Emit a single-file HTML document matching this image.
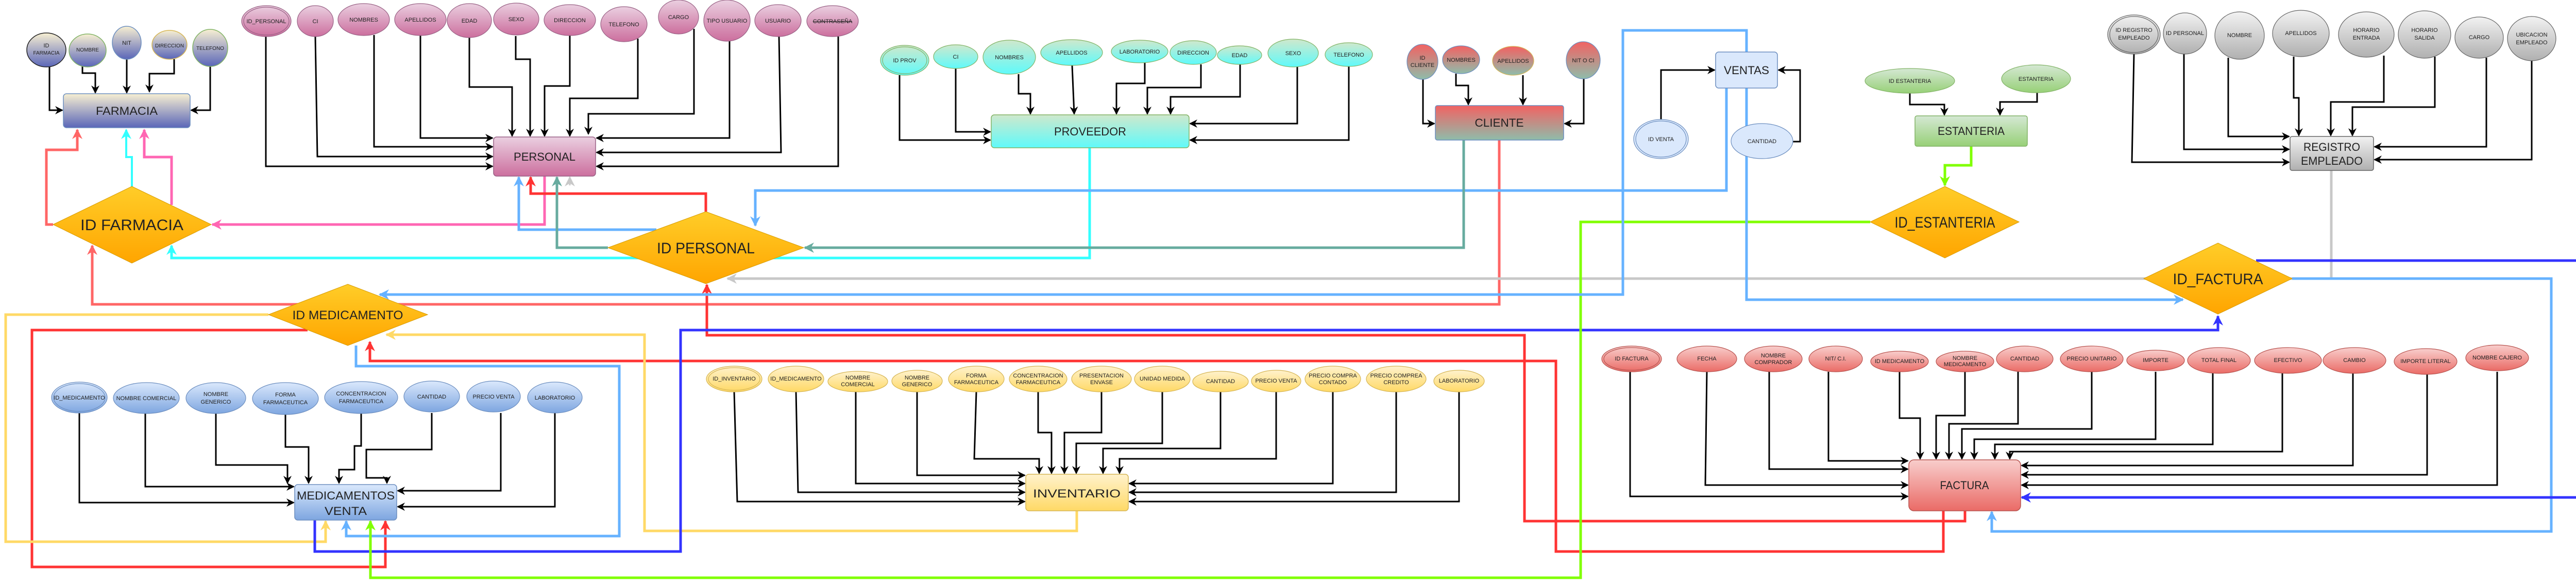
<!DOCTYPE html>
<html><head><meta charset="utf-8"><style>
html,body{margin:0;padding:0;background:#fff;width:5181px;height:1138px;overflow:hidden}
svg{display:block;position:absolute;left:0;top:0}
text{font-family:"Liberation Sans",sans-serif;fill:#222}
.a{font-size:11px}
.e{font-size:22px}
.d{font-size:30px}
</style></head><body>
<svg width="5181" height="1138" viewBox="0 0 5181 1138" xmlns="http://www.w3.org/2000/svg">
<defs>
<linearGradient id="gF" x1="0" y1="0" x2="0" y2="1"><stop offset="0" stop-color="#f7efd2"/><stop offset="1" stop-color="#5a66b8"/></linearGradient>
<linearGradient id="gP" x1="0" y1="0" x2="0" y2="1"><stop offset="0" stop-color="#eacfe0"/><stop offset="1" stop-color="#cc6f9e"/></linearGradient>
<linearGradient id="gC" x1="0" y1="0" x2="0" y2="1"><stop offset="0" stop-color="#cfe8cc"/><stop offset="1" stop-color="#5ffafa"/></linearGradient>
<linearGradient id="gR" x1="0" y1="0" x2="0" y2="1"><stop offset="0" stop-color="#f26262"/><stop offset="1" stop-color="#8fbcaa"/></linearGradient>
<linearGradient id="gE" x1="0" y1="0" x2="0" y2="1"><stop offset="0" stop-color="#d5e8d4"/><stop offset="1" stop-color="#97d077"/></linearGradient>
<linearGradient id="gG" x1="0" y1="0" x2="0" y2="1"><stop offset="0" stop-color="#f2f2f2"/><stop offset="1" stop-color="#b0b0b0"/></linearGradient>
<linearGradient id="gB" x1="0" y1="0" x2="0" y2="1"><stop offset="0" stop-color="#dae8fc"/><stop offset="1" stop-color="#7ea6e0"/></linearGradient>
<linearGradient id="gY" x1="0" y1="0" x2="0" y2="1"><stop offset="0" stop-color="#fff2cc"/><stop offset="1" stop-color="#ffd966"/></linearGradient>
<linearGradient id="gA" x1="0" y1="0" x2="0" y2="1"><stop offset="0" stop-color="#f8cecc"/><stop offset="1" stop-color="#ea6b66"/></linearGradient>
<linearGradient id="gD" x1="0" y1="0" x2="0" y2="1"><stop offset="0" stop-color="#ffcd28"/><stop offset="1" stop-color="#ffa500"/></linearGradient>
<marker id="mk" markerUnits="userSpaceOnUse" markerWidth="16" markerHeight="16" refX="14" refY="8" orient="auto-start-reverse"><path d="M0,0 L16,8 L0,16 L5,8 z" fill="#000"/></marker>
<marker id="m1" markerUnits="userSpaceOnUse" markerWidth="20" markerHeight="20" refX="18" refY="10" orient="auto-start-reverse"><path d="M0,0 L20,10 L0,20 L6,10 z" fill="#ff6666"/></marker>
<marker id="m2" markerUnits="userSpaceOnUse" markerWidth="20" markerHeight="20" refX="18" refY="10" orient="auto-start-reverse"><path d="M0,0 L20,10 L0,20 L6,10 z" fill="#33ffff"/></marker>
<marker id="m3" markerUnits="userSpaceOnUse" markerWidth="20" markerHeight="20" refX="18" refY="10" orient="auto-start-reverse"><path d="M0,0 L20,10 L0,20 L6,10 z" fill="#ff66b3"/></marker>
<marker id="m4" markerUnits="userSpaceOnUse" markerWidth="20" markerHeight="20" refX="18" refY="10" orient="auto-start-reverse"><path d="M0,0 L20,10 L0,20 L6,10 z" fill="#ff3333"/></marker>
<marker id="m5" markerUnits="userSpaceOnUse" markerWidth="20" markerHeight="20" refX="18" refY="10" orient="auto-start-reverse"><path d="M0,0 L20,10 L0,20 L6,10 z" fill="#66b2ff"/></marker>
<marker id="m6" markerUnits="userSpaceOnUse" markerWidth="20" markerHeight="20" refX="18" refY="10" orient="auto-start-reverse"><path d="M0,0 L20,10 L0,20 L6,10 z" fill="#67ab9f"/></marker>
<marker id="m7" markerUnits="userSpaceOnUse" markerWidth="20" markerHeight="20" refX="18" refY="10" orient="auto-start-reverse"><path d="M0,0 L20,10 L0,20 L6,10 z" fill="#c8c8c8"/></marker>
<marker id="m8" markerUnits="userSpaceOnUse" markerWidth="20" markerHeight="20" refX="18" refY="10" orient="auto-start-reverse"><path d="M0,0 L20,10 L0,20 L6,10 z" fill="#ffd966"/></marker>
<marker id="m9" markerUnits="userSpaceOnUse" markerWidth="20" markerHeight="20" refX="18" refY="10" orient="auto-start-reverse"><path d="M0,0 L20,10 L0,20 L6,10 z" fill="#3333ff"/></marker>
<marker id="m10" markerUnits="userSpaceOnUse" markerWidth="20" markerHeight="20" refX="18" refY="10" orient="auto-start-reverse"><path d="M0,0 L20,10 L0,20 L6,10 z" fill="#80ff00"/></marker>
</defs>

<g fill="none" stroke-width="5" stroke-linejoin="miter">
<polyline points="103,436 90,436 90,291 150,291 150,252" stroke="#ff6666" marker-end="url(#m1)"/>
<polyline points="256,362 256,305 245,305 245,252" stroke="#33ffff" stroke-width="4" marker-end="url(#m2)"/>
<polyline points="333,398 333,305 280,305 280,252" stroke="#ff66b3" marker-end="url(#m3)"/>
<polyline points="1057,342 1057,436 412,436" stroke="#ff66b3" marker-end="url(#m3)"/>
<polyline points="2115,287 2115,501 333,501 333,477" stroke="#33ffff" marker-end="url(#m2)"/>
<polyline points="2910,272 2910,591 179,591 179,477" stroke="#ff6666" marker-end="url(#m1)"/>
<polyline points="1370,411 1370,376 1030,376 1030,344" stroke="#ff3333" marker-end="url(#m4)"/>
<polyline points="1274,446 1007,446 1007,344" stroke="#66b2ff" marker-end="url(#m5)"/>
<polyline points="3351,171 3351,370 1466,370 1466,438" stroke="#66b2ff" marker-end="url(#m5)"/>
<polyline points="2841,272 2841,481 1562,481" stroke="#67ab9f" marker-end="url(#m6)"/>
<polyline points="1180,481 1081,481 1081,344" stroke="#67ab9f" marker-end="url(#m6)"/>
<polyline points="4525,331 4525,541 1412,541" stroke="#c8c8c8" marker-end="url(#m7)"/>
<polyline points="1106,360 1106,344" stroke="#c8c8c8" stroke-width="3" marker-end="url(#m7)"/>
<polyline points="4449,541 4952,541 4952,1032 3866,1032 3866,994" stroke="#66b2ff" marker-end="url(#m5)"/>
<polyline points="3814,992 3814,1012 2959,1012 2959,651 1372,651 1372,553" stroke="#ff3333" marker-end="url(#m4)"/>
<polyline points="3772,992 3772,1071 3020,1071 3020,701 718,701 718,664" stroke="#ff3333" marker-end="url(#m4)"/>
<polyline points="597,641 62,641 62,1101 748,1101 748,1012" stroke="#ff3333" marker-end="url(#m4)"/>
<polyline points="521,611 11,611 11,1052 632,1052 632,1012" stroke="#ffd966" marker-end="url(#m8)"/>
<polyline points="2090,992 2090,1031 1251,1031 1251,650 750,650" stroke="#ffd966" marker-end="url(#m8)"/>
<polyline points="691,671 691,711 1202,711 1202,1041 672,1041 672,1012" stroke="#66b2ff" marker-end="url(#m5)"/>
<polyline points="611,1010 611,1071 1321,1071 1321,641 4305,641 4305,614" stroke="#3333ff" marker-end="url(#m9)"/>
<polyline points="4379,506 5009,506 5009,966 3924,966" stroke="#3333ff" marker-end="url(#m9)"/>
<polyline points="3826,284 3826,321 3775,321 3775,360" stroke="#80ff00" marker-end="url(#m10)"/>
<polyline points="3630,431 3068,431 3068,1122 719,1122 719,1012" stroke="#80ff00" marker-end="url(#m10)"/>
<polyline points="737,572 3150,572 3150,59 3390,59 3390,582 4237,582" stroke="#66b2ff" marker-start="url(#m5)" marker-end="url(#m5)"/>
</g>

<g fill="none" stroke="#000" stroke-width="3" marker-end="url(#mk)">
<polyline points="96,130 96,214 121,214"/>
<polyline points="160,128 160,142 185,142 185,180"/>
<polyline points="246,115 246,180"/>
<polyline points="338,115 338,143 290,143 290,178"/>
<polyline points="408,128 408,214 371,214"/>

<polyline points="516,71 516,323 956,323"/>
<polyline points="612,71 616,304 956,304"/>
<polyline points="726,68 726,285 956,285"/>
<polyline points="816,68 816,268 956,268"/>
<polyline points="911,73 911,169 994,169 994,264"/>
<polyline points="1001,70 1001,115 1029,115 1029,264"/>
<polyline points="1106,69 1106,167 1057,167 1057,264"/>
<polyline points="1238,75 1238,191 1106,191 1106,264"/>
<polyline points="1347,56 1347,221 1142,221 1142,260"/>
<polyline points="1416,80 1416,268 1158,268"/>
<polyline points="1512,71 1516,296 1158,296"/>
<polyline points="1627,71 1627,323 1158,323"/>

<polyline points="1746,146 1746,272 1922,272"/>
<polyline points="1855,133 1855,256 1922,256"/>
<polyline points="1977,144 1977,182 2000,182 2000,221"/>
<polyline points="2081,127 2085,221"/>
<polyline points="2222,122 2222,162 2167,162 2167,221"/>
<polyline points="2331,125 2331,170 2227,170 2227,221"/>
<polyline points="2407,125 2407,188 2272,188 2272,221"/>
<polyline points="2518,130 2518,240 2310,240"/>
<polyline points="2618,129 2618,272 2310,272"/>

<polyline points="2762,154 2762,240 2784,240"/>
<polyline points="2826,143 2826,166 2850,166 2850,203"/>
<polyline points="2956,146 2956,203"/>
<polyline points="3074,153 3074,240 3037,240"/>

<polyline points="3224,232 3224,136 3328,136"/>
<polyline points="3480,275 3494,275 3494,136 3452,136"/>

<polyline points="3707,180 3707,203 3774,203 3774,223"/>
<polyline points="3954,180 3954,198 3882,198 3882,223"/>

<polyline points="4142,105 4138,315 4443,315"/>
<polyline points="4239,105 4239,290 4443,290"/>
<polyline points="4325,112 4325,265 4443,265"/>
<polyline points="4452,110 4452,190 4462,190 4462,263"/>
<polyline points="4627,108 4627,198 4524,198 4524,263"/>
<polyline points="4726,110 4726,208 4566,208 4566,263"/>
<polyline points="4826,112 4826,285 4609,285"/>
<polyline points="4914,118 4914,310 4609,310"/>

<polyline points="154,802 154,976 570,976"/>
<polyline points="282,802 282,945 570,945"/>
<polyline points="419,802 419,903 558,903 558,938"/>
<polyline points="554,802 554,868 599,868 599,938"/>
<polyline points="701,802 701,866 688,866 688,912 658,912 658,938"/>
<polyline points="838,802 838,873 711,873 711,928 751,928 751,938"/>
<polyline points="972,802 972,953 772,953"/>
<polyline points="1077,802 1077,984 772,984"/>

<polyline points="1425,761 1431,974 1989,974"/>
<polyline points="1545,761 1549,956 1989,956"/>
<polyline points="1661,761 1661,939 1989,939"/>
<polyline points="1780,761 1780,923 1989,923"/>
<polyline points="1895,761 1891,891 2017,891 2017,919"/>
<polyline points="2015,761 2015,840 2041,840 2041,919"/>
<polyline points="2138,761 2138,840 2066,840 2066,919"/>
<polyline points="2256,761 2256,861 2089,861 2089,919"/>
<polyline points="2369,761 2369,871 2141,871 2141,919"/>
<polyline points="2477,761 2477,891 2173,891 2173,919"/>
<polyline points="2587,761 2587,939 2192,939"/>
<polyline points="2710,761 2710,956 2192,956"/>
<polyline points="2832,761 2832,974 2192,974"/>

<polyline points="3164,722 3164,964 3703,964"/>
<polyline points="3313,722 3310,942 3703,942"/>
<polyline points="3434,722 3434,911 3703,911"/>
<polyline points="3549,722 3549,895 3703,895"/>
<polyline points="3687,722 3687,812 3727,812 3727,891"/>
<polyline points="3814,722 3814,807 3758,807 3758,891"/>
<polyline points="3917,722 3917,823 3783,823 3783,891"/>
<polyline points="4060,722 4060,833 3808,833 3808,891"/>
<polyline points="4184,722 4184,853 3832,853 3832,891"/>
<polyline points="4295,722 4295,863 3872,863 3872,891"/>
<polyline points="4430,722 4430,877 3901,877 3901,891"/>
<polyline points="4567,722 4567,904 3924,904"/>
<polyline points="4711,722 4711,922 3924,922"/>
<polyline points="4847,722 4847,942 3924,942"/>
</g>

<g stroke-width="1.5">
<rect x="123" y="182" width="246" height="66" rx="6" fill="url(#gF)" stroke="#6c8ebf"/>
<rect x="958" y="266" width="198" height="76" rx="6" fill="url(#gP)" stroke="#996185"/>
<rect x="1924" y="223" width="384" height="64" rx="6" fill="url(#gC)" stroke="#82b366"/>
<rect x="2786" y="205" width="249" height="67" rx="4" fill="url(#gR)" stroke="#6c8ebf"/>
<rect x="3330" y="101" width="120" height="70" rx="6" fill="#dae8fc" stroke="#6c8ebf"/>
<rect x="3717" y="225" width="218" height="59" rx="4" fill="url(#gE)" stroke="#82b366"/>
<rect x="4445" y="265" width="162" height="66" rx="4" fill="url(#gG)" stroke="#666"/>
<rect x="572" y="941" width="198" height="69" rx="6" fill="url(#gB)" stroke="#6c8ebf"/>
<rect x="1991" y="921" width="199" height="71" rx="6" fill="url(#gY)" stroke="#d6b656"/>
<rect x="3705" y="893" width="217" height="99" rx="10" fill="url(#gA)" stroke="#b85450"/>
</g>
<g class="e" text-anchor="middle">
<text x="246" y="223" textLength="120" lengthAdjust="spacingAndGlyphs">FARMACIA</text>
<text x="1057" y="312" textLength="120" lengthAdjust="spacingAndGlyphs">PERSONAL</text>
<text x="2116" y="263" textLength="140" lengthAdjust="spacingAndGlyphs">PROVEEDOR</text>
<text x="2910" y="246" textLength="95" lengthAdjust="spacingAndGlyphs">CLIENTE</text>
<text x="3390" y="144" textLength="88" lengthAdjust="spacingAndGlyphs">VENTAS</text>
<text x="3826" y="262" textLength="130" lengthAdjust="spacingAndGlyphs">ESTANTERIA</text>
<text x="4526" y="293" textLength="110" lengthAdjust="spacingAndGlyphs">REGISTRO</text>
<text x="4526" y="320" textLength="120" lengthAdjust="spacingAndGlyphs">EMPLEADO</text>
<text x="671" y="970" textLength="190" lengthAdjust="spacingAndGlyphs">MEDICAMENTOS</text>
<text x="671" y="1000" textLength="82" lengthAdjust="spacingAndGlyphs">VENTA</text>
<text x="2090" y="966" textLength="170" lengthAdjust="spacingAndGlyphs">INVENTARIO</text>
<text x="3813" y="950" textLength="95" lengthAdjust="spacingAndGlyphs">FACTURA</text>
</g>

<g fill="url(#gD)" stroke="#d79b00" stroke-width="1">
<polygon points="256,362 410,436 256,511 103,436"/>
<polygon points="1370,411 1560,481 1370,551 1180,481"/>
<polygon points="675,552 830,611 675,671 521,611"/>
<polygon points="3775,362 3919,431 3775,501 3630,431"/>
<polygon points="4305,472 4449,541 4305,610 4161,541"/>
</g>
<g class="d" text-anchor="middle">
<text x="256" y="447" textLength="200" lengthAdjust="spacingAndGlyphs">ID FARMACIA</text>
<text x="1370" y="492" textLength="190" lengthAdjust="spacingAndGlyphs">ID PERSONAL</text>
<text x="675" y="620" font-size="24" textLength="215" lengthAdjust="spacingAndGlyphs">ID MEDICAMENTO</text>
<text x="3775" y="442" textLength="195" lengthAdjust="spacingAndGlyphs">ID_ESTANTERIA</text>
<text x="4305" y="552" textLength="175" lengthAdjust="spacingAndGlyphs">ID_FACTURA</text>
</g>

<g fill="url(#gF)" stroke="#555" stroke-width="1.5">
<ellipse cx="90" cy="97" rx="38" ry="33" stroke="#222"/>
<ellipse cx="170" cy="98" rx="36" ry="32" stroke="#82b366"/>
<ellipse cx="246" cy="83" rx="28" ry="32" stroke="#6c8ebf"/>
<ellipse cx="329" cy="87" rx="34" ry="28" stroke="#d6b656"/>
<ellipse cx="408" cy="93" rx="34" ry="36" stroke="#82b366"/>
</g>
<g class="a" text-anchor="middle">
<text x="90" y="92">ID</text><text x="90" y="106" font-size="10">FARMACIA</text>
<text x="170" y="100" font-size="10">NOMBRE</text>
<text x="246" y="87">NIT</text>
<text x="329" y="92" font-size="10">DIRECCION</text>
<text x="408" y="97" font-size="10">TELEFONO</text>
</g>

<g fill="url(#gP)" stroke="#996185" stroke-width="1.2">
<ellipse cx="517" cy="41" rx="48" ry="30"/><ellipse cx="517" cy="41" rx="44" ry="27" fill="none"/>
<ellipse cx="612" cy="41" rx="35" ry="30"/>
<ellipse cx="706" cy="38" rx="50" ry="31"/>
<ellipse cx="816" cy="38" rx="50" ry="31"/>
<ellipse cx="911" cy="40" rx="43" ry="33"/>
<ellipse cx="1002" cy="37" rx="44" ry="31"/>
<ellipse cx="1106" cy="39" rx="50" ry="30"/>
<ellipse cx="1211" cy="47" rx="45" ry="34"/>
<ellipse cx="1317" cy="33" rx="39" ry="33"/>
<ellipse cx="1411" cy="40" rx="45" ry="40"/>
<ellipse cx="1510" cy="40" rx="45" ry="31"/>
<ellipse cx="1616" cy="41" rx="50" ry="30"/>
</g>
<g class="a" text-anchor="middle" font-size="10">
<text x="517" y="45">ID_PERSONAL</text>
<text x="612" y="45">CI</text>
<text x="706" y="42">NOMBRES</text>
<text x="816" y="42">APELLIDOS</text>
<text x="911" y="44">EDAD</text>
<text x="1002" y="41">SEXO</text>
<text x="1106" y="43">DIRECCION</text>
<text x="1211" y="51">TELEFONO</text>
<text x="1317" y="37">CARGO</text>
<text x="1411" y="44">TIPO USUARIO</text>
<text x="1510" y="44">USUARIO</text>
<text x="1616" y="45" text-decoration="line-through">CONTRASEÑA</text>
</g>

<g fill="url(#gC)" stroke="#82b366" stroke-width="1.2">
<ellipse cx="1756" cy="117" rx="47" ry="29"/><ellipse cx="1756" cy="117" rx="43" ry="26" fill="none"/>
<ellipse cx="1855" cy="110" rx="43" ry="23"/>
<ellipse cx="1959" cy="111" rx="51" ry="33"/>
<ellipse cx="2080" cy="102" rx="60" ry="25"/>
<ellipse cx="2212" cy="100" rx="55" ry="22"/>
<ellipse cx="2316" cy="102" rx="45" ry="23"/>
<ellipse cx="2406" cy="107" rx="43" ry="18"/>
<ellipse cx="2510" cy="103" rx="49" ry="27"/>
<ellipse cx="2618" cy="106" rx="46" ry="23"/>
</g>
<g class="a" text-anchor="middle" font-size="10">
<text x="1756" y="121">ID PROV</text>
<text x="1855" y="114">CI</text>
<text x="1959" y="115">NOMBRES</text>
<text x="2080" y="106">APELLIDOS</text>
<text x="2212" y="104">LABORATORIO</text>
<text x="2316" y="106">DIRECCION</text>
<text x="2406" y="111">EDAD</text>
<text x="2510" y="107">SEXO</text>
<text x="2618" y="110">TELEFONO</text>
</g>

<g fill="url(#gR)" stroke="#6c8ebf" stroke-width="1.2">
<ellipse cx="2761" cy="120" rx="30" ry="34"/>
<ellipse cx="2836" cy="116" rx="36" ry="27"/>
<ellipse cx="2937" cy="118" rx="40" ry="28" stroke="#d6b656"/>
<ellipse cx="3073" cy="117" rx="33" ry="36"/>
</g>
<g class="a" text-anchor="middle" font-size="10">
<text x="2761" y="116">ID</text><text x="2761" y="130">CLIENTE</text>
<text x="2836" y="120">NOMBRES</text>
<text x="2937" y="122">APELLIDOS</text>
<text x="3073" y="121">NIT O CI</text>
</g>

<g fill="#dae8fc" stroke="#6c8ebf" stroke-width="1.2">
<ellipse cx="3224" cy="270" rx="53" ry="38"/><ellipse cx="3224" cy="270" rx="49" ry="35" fill="none"/>
<ellipse cx="3420" cy="274" rx="60" ry="34"/>
</g>
<g class="a" text-anchor="middle" font-size="10">
<text x="3224" y="274">ID VENTA</text>
<text x="3420" y="278">CANTIDAD</text>
</g>

<g fill="url(#gE)" stroke="#82b366" stroke-width="1.2">
<ellipse cx="3707" cy="157" rx="87" ry="24"/>
<ellipse cx="3952" cy="153" rx="67" ry="27"/>
</g>
<g class="a" text-anchor="middle" font-size="12">
<text x="3707" y="161">ID ESTANTERIA</text>
<text x="3952" y="157">ESTANTERIA</text>
</g>

<g fill="url(#gG)" stroke="#666" stroke-width="1.2">
<ellipse cx="4142" cy="67" rx="51" ry="38"/><ellipse cx="4142" cy="67" rx="47" ry="35" fill="none"/>
<ellipse cx="4241" cy="65" rx="42" ry="40"/>
<ellipse cx="4347" cy="69" rx="48" ry="46"/>
<ellipse cx="4466" cy="65" rx="55" ry="45"/>
<ellipse cx="4593" cy="67" rx="54" ry="44"/>
<ellipse cx="4706" cy="67" rx="51" ry="46"/>
<ellipse cx="4812" cy="73" rx="47" ry="40"/>
<ellipse cx="4914" cy="75" rx="47" ry="43"/>
</g>
<g class="a" text-anchor="middle" font-size="10">
<text x="4142" y="62">ID REGISTRO</text><text x="4142" y="77">EMPLEADO</text>
<text x="4241" y="68">ID PERSONAL</text>
<text x="4347" y="72">NOMBRE</text>
<text x="4466" y="68">APELLIDOS</text>
<text x="4593" y="62">HORARIO</text><text x="4593" y="77">ENTRADA</text>
<text x="4706" y="62">HORARIO</text><text x="4706" y="77">SALIDA</text>
<text x="4812" y="76">CARGO</text>
<text x="4914" y="71">UBICACION</text><text x="4914" y="86">EMPLEADO</text>
</g>

<g fill="url(#gB)" stroke="#6c8ebf" stroke-width="1.2">
<ellipse cx="154" cy="772" rx="54" ry="30"/><ellipse cx="154" cy="772" rx="50" ry="27" fill="none"/>
<ellipse cx="284" cy="773" rx="64" ry="30"/>
<ellipse cx="419" cy="773" rx="58" ry="30"/>
<ellipse cx="554" cy="774" rx="64" ry="31"/>
<ellipse cx="701" cy="772" rx="71" ry="31"/>
<ellipse cx="838" cy="770" rx="54" ry="30"/>
<ellipse cx="958" cy="770" rx="52" ry="30"/>
<ellipse cx="1077" cy="772" rx="53" ry="30"/>
</g>
<g class="a" text-anchor="middle" font-size="10">
<text x="154" y="776">ID_MEDICAMENTO</text>
<text x="284" y="777">NOMBRE COMERCIAL</text>
<text x="419" y="769">NOMBRE</text><text x="419" y="784">GENERICO</text>
<text x="554" y="770">FORMA</text><text x="554" y="785">FARMACEUTICA</text>
<text x="701" y="768">CONCENTRACION</text><text x="701" y="783">FARMACEUTICA</text>
<text x="838" y="774">CANTIDAD</text>
<text x="958" y="774">PRECIO VENTA</text>
<text x="1077" y="776">LABORATORIO</text>
</g>

<g fill="url(#gY)" stroke="#d6b656" stroke-width="1.2">
<ellipse cx="1425" cy="736" rx="54" ry="25"/><ellipse cx="1425" cy="736" rx="50" ry="22" fill="none"/>
<ellipse cx="1545" cy="736" rx="54" ry="25"/>
<ellipse cx="1665" cy="741" rx="58" ry="20"/>
<ellipse cx="1780" cy="740" rx="49" ry="21"/>
<ellipse cx="1895" cy="736" rx="54" ry="25"/>
<ellipse cx="2015" cy="736" rx="56" ry="25"/>
<ellipse cx="2138" cy="736" rx="58" ry="25"/>
<ellipse cx="2256" cy="736" rx="54" ry="25"/>
<ellipse cx="2369" cy="741" rx="54" ry="20"/>
<ellipse cx="2477" cy="740" rx="48" ry="21"/>
<ellipse cx="2587" cy="736" rx="54" ry="25"/>
<ellipse cx="2710" cy="736" rx="58" ry="25"/>
<ellipse cx="2832" cy="740" rx="49" ry="21"/>
</g>
<g class="a" text-anchor="middle" font-size="9">
<text x="1425" y="739">ID_INVENTARIO</text>
<text x="1545" y="739">ID_MEDICAMENTO</text>
<text x="1665" y="737">NOMBRE</text><text x="1665" y="750">COMERCIAL</text>
<text x="1780" y="737">NOMBRE</text><text x="1780" y="750">GENERICO</text>
<text x="1895" y="733">FORMA</text><text x="1895" y="746">FARMACEUTICA</text>
<text x="2015" y="733">CONCENTRACION</text><text x="2015" y="746">FARMACEUTICA</text>
<text x="2138" y="733">PRESENTACION</text><text x="2138" y="746">ENVASE</text>
<text x="2256" y="739">UNIDAD MEDIDA</text>
<text x="2369" y="744">CANTIDAD</text>
<text x="2477" y="743">PRECIO VENTA</text>
<text x="2587" y="733">PRECIO COMPRA</text><text x="2587" y="746">CONTADO</text>
<text x="2710" y="733">PRECIO COMPREA</text><text x="2710" y="746">CREDITO</text>
<text x="2832" y="743">LABORATORIO</text>
</g>

<g fill="url(#gA)" stroke="#b85450" stroke-width="1.2">
<ellipse cx="3167" cy="697" rx="58" ry="25"/><ellipse cx="3167" cy="697" rx="54" ry="22" fill="none"/>
<ellipse cx="3313" cy="697" rx="58" ry="25"/>
<ellipse cx="3442" cy="697" rx="56" ry="25"/>
<ellipse cx="3563" cy="697" rx="52" ry="25"/>
<ellipse cx="3687" cy="702" rx="56" ry="20"/>
<ellipse cx="3814" cy="702" rx="56" ry="20"/>
<ellipse cx="3930" cy="697" rx="55" ry="25"/>
<ellipse cx="4060" cy="697" rx="61" ry="25"/>
<ellipse cx="4184" cy="700" rx="56" ry="20"/>
<ellipse cx="4307" cy="700" rx="61" ry="25"/>
<ellipse cx="4441" cy="700" rx="65" ry="25"/>
<ellipse cx="4570" cy="700" rx="61" ry="25"/>
<ellipse cx="4708" cy="702" rx="61" ry="25"/>
<ellipse cx="4847" cy="695" rx="61" ry="25"/>
</g>
<g class="a" text-anchor="middle" font-size="9">
<text x="3167" y="700">ID FACTURA</text>
<text x="3313" y="700">FECHA</text>
<text x="3442" y="694">NOMBRE</text><text x="3442" y="707">COMPRADOR</text>
<text x="3563" y="700">NIT/ C.I.</text>
<text x="3687" y="705">ID MEDICAMENTO</text>
<text x="3814" y="699">NOMBRE</text><text x="3814" y="711">MEDICAMENTO</text>
<text x="3930" y="700">CANTIDAD</text>
<text x="4060" y="700">PRECIO UNITARIO</text>
<text x="4184" y="703">IMPORTE</text>
<text x="4307" y="703">TOTAL FINAL</text>
<text x="4441" y="703">EFECTIVO</text>
<text x="4570" y="703">CAMBIO</text>
<text x="4708" y="705">IMPORTE LITERAL</text>
<text x="4847" y="698">NOMBRE CAJERO</text>
</g>
</svg>
</body></html>
